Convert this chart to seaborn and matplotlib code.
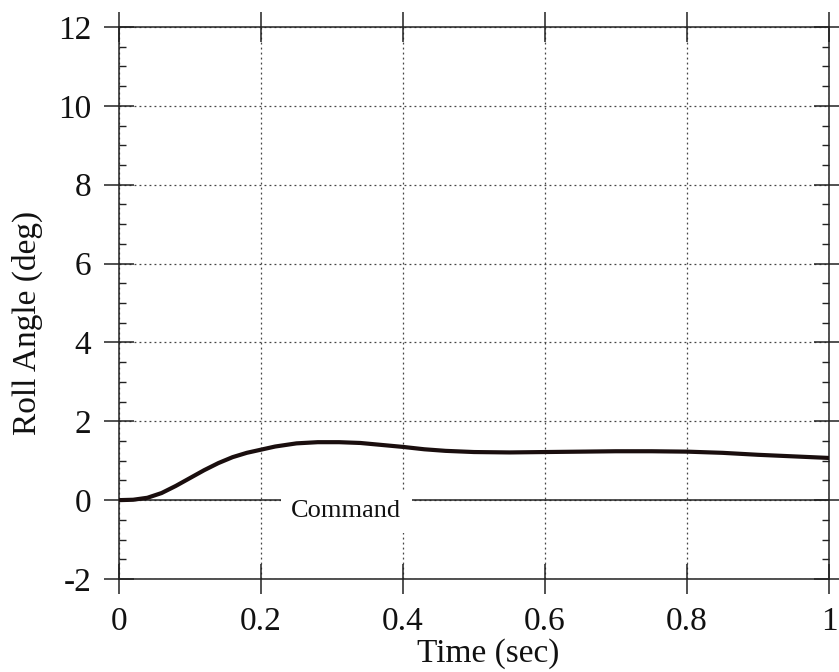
import matplotlib
matplotlib.use("Agg")
import matplotlib.pyplot as plt
from matplotlib.ticker import FixedLocator, MultipleLocator
import seaborn as sns
import pandas as pd

# roll response
time_s = [0.00, 0.02, 0.04, 0.06, 0.08, 0.10, 0.12, 0.14, 0.16, 0.18, 0.20,
          0.22, 0.25, 0.28, 0.31, 0.34, 0.37, 0.40, 0.43, 0.46, 0.50, 0.55,
          0.60, 0.65, 0.70, 0.75, 0.80, 0.85, 0.90, 0.95, 1.00]
roll_deg = [0.00, 0.01, 0.06, 0.18, 0.36, 0.56, 0.76, 0.94, 1.09, 1.20, 1.28,
            1.36, 1.44, 1.47, 1.47, 1.45, 1.40, 1.35, 1.29, 1.25, 1.22, 1.21,
            1.22, 1.23, 1.24, 1.24, 1.23, 1.20, 1.15, 1.11, 1.07]

# command is zero over the whole run
cmd_time = [0.0, 1.0]
cmd_deg = [0.0, 0.0]

x_ticks = [0, 0.2, 0.4, 0.6, 0.8, 1]
x_labels = ["0", "0.2", "0.4", "0.6", "0.8", "1"]
y_ticks = [-2, 0, 2, 4, 6, 8, 10, 12]
y_labels = ["-2", "0", "2", "4", "6", "8", "10", "12"]

sns.set_style("ticks")
plt.rcParams["font.family"] = ["Liberation Serif", "DejaVu Serif"]
plt.rcParams["axes.unicode_minus"] = False
plt.rcParams["text.color"] = "#111111"
plt.rcParams["axes.labelcolor"] = "#111111"
plt.rcParams["xtick.labelcolor"] = "#111111"
plt.rcParams["ytick.labelcolor"] = "#111111"

resp = pd.DataFrame({"t": time_s, "roll": roll_deg})
cmd = pd.DataFrame({"t": cmd_time, "roll": cmd_deg})

fig = plt.figure(figsize=(8.39, 6.72), dpi=100)
ax = fig.add_axes([0.1418, 0.1384, 0.8463, 0.8214])

ax.set_axisbelow(True)
ax.grid(True, which="major", linestyle=(0, (1.5, 2.5)), color="#444444", linewidth=0.9)

sns.lineplot(data=cmd, x="t", y="roll", ax=ax, color="#222222", linewidth=1.1, zorder=2)
sns.lineplot(data=resp, x="t", y="roll", ax=ax, color="#1a0e0e", linewidth=3.0, zorder=4)

ax.text(0.32, -0.43, "Command", fontsize=19, ha="center", va="baseline", zorder=3,
        bbox=dict(boxstyle="square,pad=0.4", facecolor="white", edgecolor="none"))

ax.set_xlim(0, 1)
ax.set_ylim(-2, 12)
ax.xaxis.set_major_locator(FixedLocator(x_ticks))
ax.set_xticklabels(x_labels)
ax.yaxis.set_major_locator(FixedLocator(y_ticks))
ax.set_yticklabels(y_labels)
ax.yaxis.set_minor_locator(MultipleLocator(0.5))

ax.tick_params(which="major", direction="inout", length=22, width=1.1, color="#222222",
               top=True, right=True, labelsize=24, pad=9)
ax.tick_params(which="minor", direction="in", length=5, width=1.0, color="#222222",
               left=True, right=True, top=False, bottom=False)

for sp in ax.spines.values():
    sp.set_visible(True)
    sp.set_linewidth(1.1)
    sp.set_color("#222222")

ax.set_xlabel("Time (sec)", fontsize=24)
ax.set_ylabel("Roll Angle (deg)", fontsize=24)
ax.xaxis.set_label_coords(0.52, -0.108)
ax.yaxis.set_label_coords(-0.107, 0.463)

fig.savefig("out.png", dpi=100)
